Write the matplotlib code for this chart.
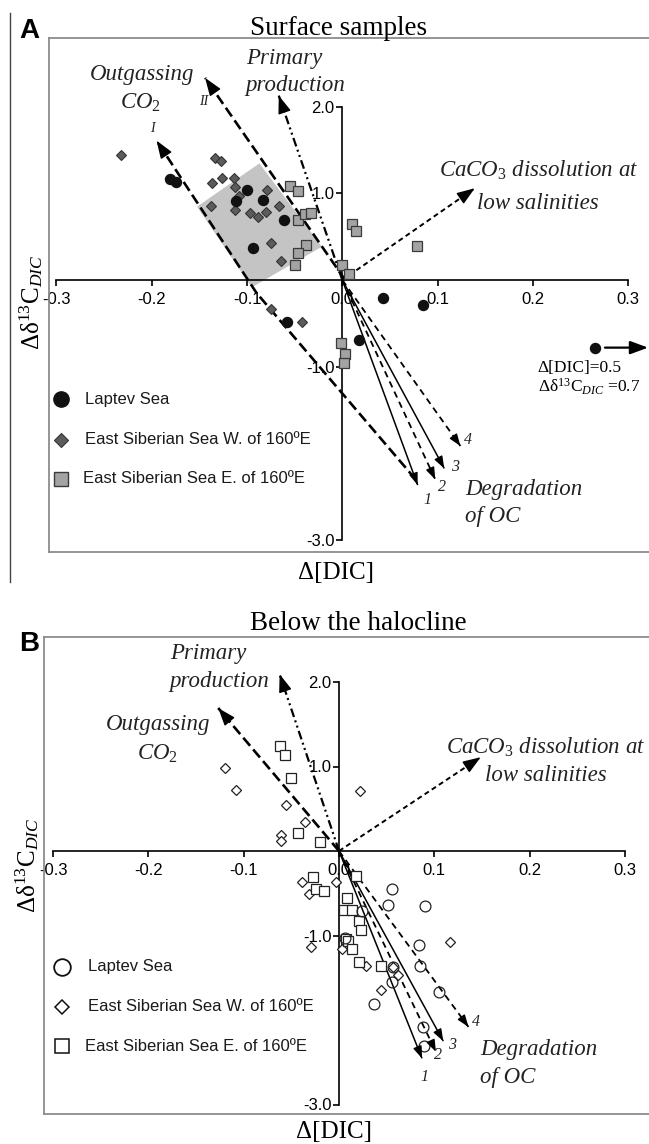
import numpy as np
import matplotlib; matplotlib.use('Agg')
import matplotlib.pyplot as plt
from matplotlib.lines import Line2D

plt.rcParams.update({'font.family': 'Liberation Sans', 'mathtext.fontset': 'custom',
                     'mathtext.rm': 'Liberation Serif', 'mathtext.it': 'Liberation Serif:italic',
                     'mathtext.bf': 'Liberation Serif:bold'})
SERIF = 'Liberation Serif'

# ---------------- data ----------------
# panel A, surface samples
lap_a_x = [-0.181, -0.175, -0.100, -0.112, -0.083, -0.061, -0.094, 0.0425, 0.0843, -0.058, 0.018]
lap_a_y = [1.160, 1.135, 1.042, 0.915, 0.923, 0.696, 0.369, -0.212, -0.288, -0.481, -0.692]
esw_a_x = [-0.232, -0.134, -0.127, -0.137, -0.126, -0.114, -0.113, -0.108, -0.079, -0.138, -0.113,
           -0.097, -0.088, -0.080, -0.066, -0.075, -0.064, -0.075, -0.042]
esw_a_y = [1.444, 1.408, 1.377, 1.115, 1.173, 1.173, 1.077, 0.965, 1.042, 0.858, 0.808,
           0.773, 0.731, 0.785, 0.850, 0.431, 0.215, -0.338, -0.481]
ese_a_x = [-0.055, -0.047, -0.046, -0.039, -0.033, -0.038, -0.046, -0.050, 0.000, 0.007, 0.0105,
           0.014, 0.078, -0.001, 0.0024, 0.0014]
ese_a_y = [1.081, 1.023, 0.696, 0.762, 0.769, 0.408, 0.308, 0.173, 0.173, 0.069, 0.646,
           0.562, 0.391, -0.723, -0.854, -0.962]
offscale_a = (0.2655, -0.78)   # Laptev point with D[DIC]=0.5, Dd13C=0.7
box_a_x = [-0.087, -0.0215, -0.095, -0.1525]
box_a_y = [1.345, 0.384, -0.085, 0.846]

# panel B, below the halocline
lap_b_x = [0.0557, 0.0512, 0.0906, 0.0237, 0.0836, 0.085, 0.0564, 0.0557, 0.1045, 0.0366, 0.0878,
           0.0889, 0.006]
lap_b_y = [-0.45, -0.634, -0.646, -0.712, -1.115, -1.358, -1.378, -1.546, -1.671, -1.816, -2.082,
           -2.305, -1.03]
esw_b_x = [-0.120, -0.108, -0.056, -0.036, -0.061, -0.061, 0.022, -0.0387, -0.0314, -0.0028, -0.0289,
           0.0035, 0.0279, 0.0443, 0.0571, 0.0617, 0.0443, 0.1164]
esw_b_y = [0.984, 0.72, 0.544, 0.348, 0.192, 0.12, 0.712, -0.368, -0.505, -0.368, -1.135,
           -1.162, -1.366, -1.358, -1.378, -1.468, -1.64, -1.072]
ese_b_x = [-0.0623, -0.0567, -0.050, -0.0433, -0.0204, -0.0272, -0.0244, -0.0157, 0.0181, 0.0087,
           0.0049, 0.0136, 0.0206, 0.0233, 0.007, 0.009, 0.0136, 0.0209, 0.0443]
ese_b_y = [1.24, 1.14, 0.868, 0.212, 0.112, -0.309, -0.45, -0.47, -0.294, -0.556,
           -0.693, -0.70, -0.83, -0.935, -1.037, -1.06, -1.162, -1.311, -1.366]

# process vectors (end points)
out_a_I = [(0.077, -2.30), (-0.090, -0.15), (-0.195, 1.608)]
out_a_II = [(0.003, 0.0), (-0.144, 2.331)]
prim_a = (-0.0667, 2.127)
caco3_a = (0.139, 1.058)
deg_a = [(0.0791, -2.365), (0.0976, -2.30), (0.107, -2.173), (0.124, -1.915)]
out_b = (-0.1268, 1.692)
prim_b = (-0.0623, 2.092)
caco3_b = (0.1487, 1.11)
deg_b = [(0.0871, -2.454), (0.1017, -2.376), (0.1094, -2.25), (0.1359, -2.082)]

xticks = [-0.3, -0.2, -0.1, 0.0, 0.1, 0.2, 0.3]
yticks = [2.0, 1.0, -1.0, -3.0]

W, H = 649, 1144
fig = plt.figure(figsize=(W / 100, H / 100), dpi=100)

LONG = (0, (4, 1.8))
DDOT = (0, (4, 1.6, 0.9, 1.6, 0.9, 1.6))
SHORT = (0, (2.6, 1.8))
MED = (0, (3.6, 2.6))


def head(ax, p0, p1, lw, ms, hl, hw):
    q = (p1[0] - (p1[0] - p0[0]) * 0.03, p1[1] - (p1[1] - p0[1]) * 0.03)
    ax.annotate('', xy=p1, xytext=q, zorder=5,
                arrowprops=dict(arrowstyle=f'-|>,head_length={hl},head_width={hw}', color='k',
                                lw=lw, shrinkA=0, shrinkB=0, mutation_scale=ms))


def vec(ax, pts, ls, lw, ms=20, hl=0.5, hw=0.18):
    xs = [p[0] for p in pts]; ys = [p[1] for p in pts]
    ax.plot(xs, ys, color='k', lw=lw, ls=ls, zorder=3, solid_capstyle='butt')
    head(ax, pts[-2], pts[-1], 1.0, ms, hl, hw)


def setup(ax, xlim, ylim):
    ax.set_xlim(xlim); ax.set_ylim(ylim)
    ax.patch.set_alpha(0)
    for s in ['top', 'right']:
        ax.spines[s].set_visible(False)
    ax.spines['left'].set_position(('data', 0)); ax.spines['bottom'].set_position(('data', 0))
    ax.spines['left'].set_bounds(-3, 2); ax.spines['bottom'].set_bounds(-0.3, 0.3)
    for s in ['left', 'bottom']:
        ax.spines[s].set_linewidth(1.2); ax.spines[s].set_zorder(2.5)
    ax.set_xticks(xticks); ax.set_xticklabels([f'{v:.1f}' for v in xticks])
    ax.set_yticks(yticks); ax.set_yticklabels([f'{v:.1f}' for v in yticks])
    ax.tick_params(direction='out', length=4, width=1.2, labelsize=12, colors='k')
    ax.tick_params(axis='x', pad=4.5)
    ax.tick_params(axis='y', pad=1.5)
    for x0, y0, x1, y1 in [(0, 1, 1, 1), (0, 0, 0, 1), (0, 0, 1, 0)]:
        ax.add_line(Line2D([x0, x1], [y0, y1], transform=ax.transAxes, color='#8c8c8c', lw=1.3,
                           clip_on=False))


def legend(ax, xm, ys, xt, styles, labels):
    for y, st, lab, x_t in zip(ys, styles, labels, xt):
        ax.plot([xm], [y], ls='none', zorder=6, **st)
        ax.text(x_t, y, lab, fontsize=12, va='center', ha='left', color='#1a1a1a')


def itext(ax, x, y, s, size=16.5, ha='center'):
    ax.text(x, y, s, fontsize=size, family=SERIF, style='italic', ha=ha, va='center',
            color='#222222', zorder=6)


labels = ['Laptev Sea', 'East Siberian Sea W. of 160ºE', 'East Siberian Sea E. of 160ºE']

# ================= panel A =================
axA = fig.add_axes([48.8 / W, 1 - 552 / H, 1 - 48.8 / W, (552 - 37.7) / H])
setup(axA, ((48.8 - 342.3) / 952.7, (649 - 342.3) / 952.7), ((280 - 552) / 86.7, (280 - 37.7) / 86.7))
axA.fill(box_a_x, box_a_y, color='#c4c4c4', lw=0, zorder=1)

vec(axA, out_a_I, LONG, 1.9, ms=20, hl=0.55, hw=0.2)
vec(axA, out_a_II, LONG, 1.9, ms=20, hl=0.55, hw=0.2)
vec(axA, [(0, 0), prim_a], DDOT, 1.6, ms=20, hl=0.55, hw=0.2)
vec(axA, [(0, 0), caco3_a], SHORT, 1.4, ms=20, hl=0.55, hw=0.2)
for p, ls in zip(deg_a, ['-', MED, '-', MED]):
    vec(axA, [(0, 0), p], ls, 1.1 if ls == '-' else 1.3, ms=12, hl=0.6, hw=0.22)

mA = dict(zorder=4)
axA.plot(esw_a_x, esw_a_y, 'D', ms=5.2, mfc='#5c5c5c', mec='#333333', mew=0.8, ls='none', **mA)
axA.plot(ese_a_x, ese_a_y, 's', ms=6.6, mfc='#a3a3a3', mec='#3a3a3a', mew=0.9, ls='none', **mA)
axA.plot(lap_a_x, lap_a_y, 'o', ms=7.2, mfc='#111111', mec='#111111', ls='none', **mA)
axA.plot([offscale_a[0]], [offscale_a[1]], 'o', ms=7.2, color='#111111', zorder=4)
axA.annotate('', xy=(0.321, -0.78), xytext=(0.2757, -0.78), annotation_clip=False,
             arrowprops=dict(arrowstyle='-|>,head_length=0.6,head_width=0.22', color='k', lw=1.6,
                             shrinkA=0, shrinkB=0, mutation_scale=18))
axA.text(0.2052, -1.01, 'Δ[DIC]=0.5', fontsize=12.5, family=SERIF, va='center', ha='left')
axA.text(0.2052, -1.235, 'Δδ$^{13}$C$_{\\mathit{DIC}}$ =0.7', fontsize=12.5, family=SERIF,
         va='center', ha='left')

itext(axA, -0.2105, 2.376, 'Outgassing')
itext(axA, -0.2115, 2.038, 'CO$_{\\mathit{2}}$')
itext(axA, -0.1997, 1.75, 'I', size=10)
itext(axA, -0.146, 2.057, 'II', size=10)
itext(axA, -0.101, 2.557, 'Primary', ha='left')
itext(axA, -0.102, 2.249, 'production', ha='left')
itext(axA, 0.2057, 1.269, 'CaCO$_{\\mathit{3}}$ dissolution at')
itext(axA, 0.2057, 0.885, 'low salinities')
itext(axA, 0.129, -2.42, 'Degradation', ha='left')
itext(axA, 0.129, -2.73, 'of OC', ha='left')
for (x, y), n in zip([(0.0897, -2.54), (0.105, -2.385), (0.118, -2.16), (0.132, -1.84)], '1234'):
    itext(axA, x, y, n, size=11.5)

legend(axA, -0.295, [-1.373, -1.845, -2.295], [-0.2702, -0.2702, -0.2724],
       [dict(marker='o', ms=11, mfc='#111111', mec='#111111'),
        dict(marker='D', ms=7.5, mfc='#5c5c5c', mec='#333333', mew=0.8),
        dict(marker='s', ms=10, mfc='#a3a3a3', mec='#3a3a3a', mew=1.0)], labels)

# ================= panel B =================
axB = fig.add_axes([44.3 / W, 1 - 1114 / H, 1 - 44.3 / W, (1114 - 636.7) / H])
setup(axB, ((44.3 - 339) / 953, (649 - 339) / 953), ((851 - 1114) / 84.5, (851 - 636.7) / 84.5))

vec(axB, [(0, 0), out_b], LONG, 1.9, ms=20, hl=0.55, hw=0.2)
vec(axB, [(0, 0), prim_b], DDOT, 1.6, ms=20, hl=0.55, hw=0.2)
vec(axB, [(0, 0), caco3_b], SHORT, 1.4, ms=20, hl=0.55, hw=0.2)
for p, ls in zip(deg_b, ['-', MED, '-', MED]):
    vec(axB, [(0, 0), p], ls, 1.1 if ls == '-' else 1.3, ms=12, hl=0.6, hw=0.22)

axB.plot(esw_b_x, esw_b_y, 'D', ms=5.2, mfc='white', mec='#222222', mew=0.9, ls='none', zorder=4)
axB.plot(ese_b_x, ese_b_y, 's', ms=6.6, mfc='white', mec='#222222', mew=0.9, ls='none', zorder=4)
axB.plot(lap_b_x, lap_b_y, 'o', ms=7.8, mfc='none', mec='#222222', mew=0.9, ls='none', zorder=4)

itext(axB, -0.19, 1.50, 'Outgassing')
itext(axB, -0.19, 1.155, 'CO$_{\\mathit{2}}$')
itext(axB, -0.177, 2.343, 'Primary', ha='left')
itext(axB, -0.178, 2.0, 'production', ha='left')
itext(axB, 0.217, 1.23, 'CaCO$_{\\mathit{3}}$ dissolution at')
itext(axB, 0.217, 0.896, 'low salinities')
itext(axB, 0.148, -2.35, 'Degradation', ha='left')
itext(axB, 0.148, -2.68, 'of OC', ha='left')
for (x, y), n in zip([(0.0895, -2.67), (0.104, -2.41), (0.119, -2.30), (0.1436, -2.02)], '1234'):
    itext(axB, x, y, n, size=11.5)

legend(axB, -0.2907, [-1.369, -1.843, -2.308], [-0.2637, -0.2637, -0.2666],
       [dict(marker='o', ms=12, mfc='white', mec='#111111', mew=1.3),
        dict(marker='D', ms=7.5, mfc='white', mec='#111111', mew=1.1),
        dict(marker='s', ms=10.5, mfc='white', mec='#111111', mew=1.1)], labels)

# ================= figure texts =================
def ftext(px, py, s, **kw):
    fig.text(px / W, 1 - py / H, s, **kw)

ftext(250.5, 35, 'Surface samples', fontsize=19.5, family=SERIF, ha='left', va='baseline')
ftext(250.5, 630, 'Below the halocline', fontsize=19.5, family=SERIF, ha='left', va='baseline')
ftext(29, 31, 'A', fontsize=20, fontweight='bold', ha='center', va='center')
ftext(29, 644, 'B', fontsize=20, fontweight='bold', ha='center', va='center')
ftext(336, 579, 'Δ[DIC]', fontsize=18, family=SERIF, ha='center', va='baseline')
ftext(334, 1138, 'Δ[DIC]', fontsize=18, family=SERIF, ha='center', va='baseline')
ylab = 'Δδ$^{13}$C$_{\\mathit{DIC}}$'
ftext(31, 302, ylab, fontsize=18, family=SERIF, rotation=90, ha='center', va='center')
ftext(27, 865, ylab, fontsize=18, family=SERIF, rotation=90, ha='center', va='center')
fig.add_artist(Line2D([10 / W, 10 / W], [1 - 13 / H, 1 - 582 / H], color='#444444', lw=1.0))

fig.savefig('out.png', dpi=100)
